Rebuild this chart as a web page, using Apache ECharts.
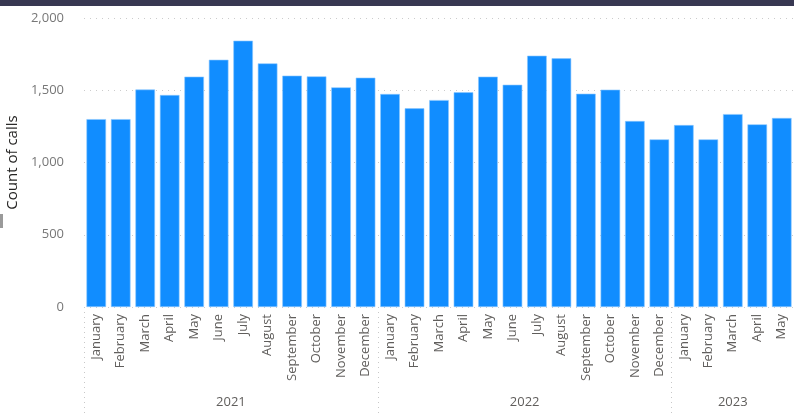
<!DOCTYPE html>
<html>
<head>
<meta charset="utf-8">
<script src="https://cdn.jsdelivr.net/npm/echarts@6/dist/echarts.min.js"></script>
<style>
html,body{margin:0;padding:0;background:#fff;}
#chart{width:794px;height:414px;}
</style>
</head>
<body>
<div id="chart"></div>
<script>
const months = ['January','February','March','April','May','June','July','August','September','October','November','December',
  'January','February','March','April','May','June','July','August','September','October','November','December',
  'January','February','March','April','May'];
const calls = [1300,1300,1505,1467,1594,1711,1843,1686,1601,1596,1520,1587,
  1474,1375,1432,1486,1594,1538,1739,1721,1476,1504,1287,1160,
  1259,1160,1335,1264,1308];
const years = ['2021','2022','2023'];
const yearMonthCounts = [12,12,5];
const yTicks = [0,500,1000,1500,2000];

// year boundaries and centers (in category units)
const yearBounds = [0];
yearMonthCounts.forEach(c => yearBounds.push(yearBounds[yearBounds.length-1] + c));
const yearCenters = years.map((y,i) => (yearBounds[i] + yearBounds[i+1]) / 2);

const chart = echarts.init(document.getElementById('chart'), null, {renderer:'canvas'});
const font = "'Open Sans', 'Noto Sans', sans-serif";
chart.setOption({
  animation:false,
  backgroundColor:'#ffffff',
  graphic:[
    {type:'rect', shape:{x:0,y:0,width:794,height:6}, style:{fill:'#383852'}},
    {type:'rect', shape:{x:0,y:214,width:3,height:14}, style:{fill:'#9a9a9a'}}
  ],
  grid:{left:84, right:0, top:18, bottom:107, containLabel:false, outerBoundsMode:'none'},
  xAxis:[
    {
      type:'category',
      data:months,
      axisLine:{show:false},
      axisTick:{show:false},
      axisLabel:{rotate:90, interval:0, color:'#605e5c', fontSize:13, fontFamily:font, margin:7}
    },
    {
      type:'value',
      position:'bottom',
      min:0, max:months.length,
      axisLine:{show:false},
      splitLine:{show:false},
      axisTick:{show:true, customValues:yearBounds.slice(0, years.length), length:107,
        lineStyle:{color:'#c8c8c8', type:[1,4], width:1}},
      axisLabel:{customValues:yearCenters, margin:89, color:'#605e5c', fontSize:13, fontFamily:font,
        formatter:function(v){ const i = yearCenters.indexOf(v); return i>=0 ? years[i] : ''; }}
    }
  ],
  yAxis:{
    type:'value',
    min:0, max:yTicks[yTicks.length-1], interval:yTicks[1]-yTicks[0],
    name:'Count of calls',
    nameLocation:'middle',
    nameGap:60,
    nameTextStyle:{color:'#252423', fontSize:15, fontFamily:font},
    axisLine:{show:false},
    axisTick:{show:false},
    axisLabel:{color:'#777777', fontSize:13, fontFamily:font, margin:20,
      formatter:function(v){ return v.toLocaleString('en-US'); }},
    splitLine:{show:true, lineStyle:{color:'#cccccc', type:[1,5], width:1}}
  },
  series:[{
    type:'bar',
    data:calls,
    xAxisIndex:0,
    barCategoryGap:'20%',
    itemStyle:{color:'#118DFF', borderColor:'#8cc8ff', borderWidth:0.6}
  }]
});
</script>
</body>
</html>
